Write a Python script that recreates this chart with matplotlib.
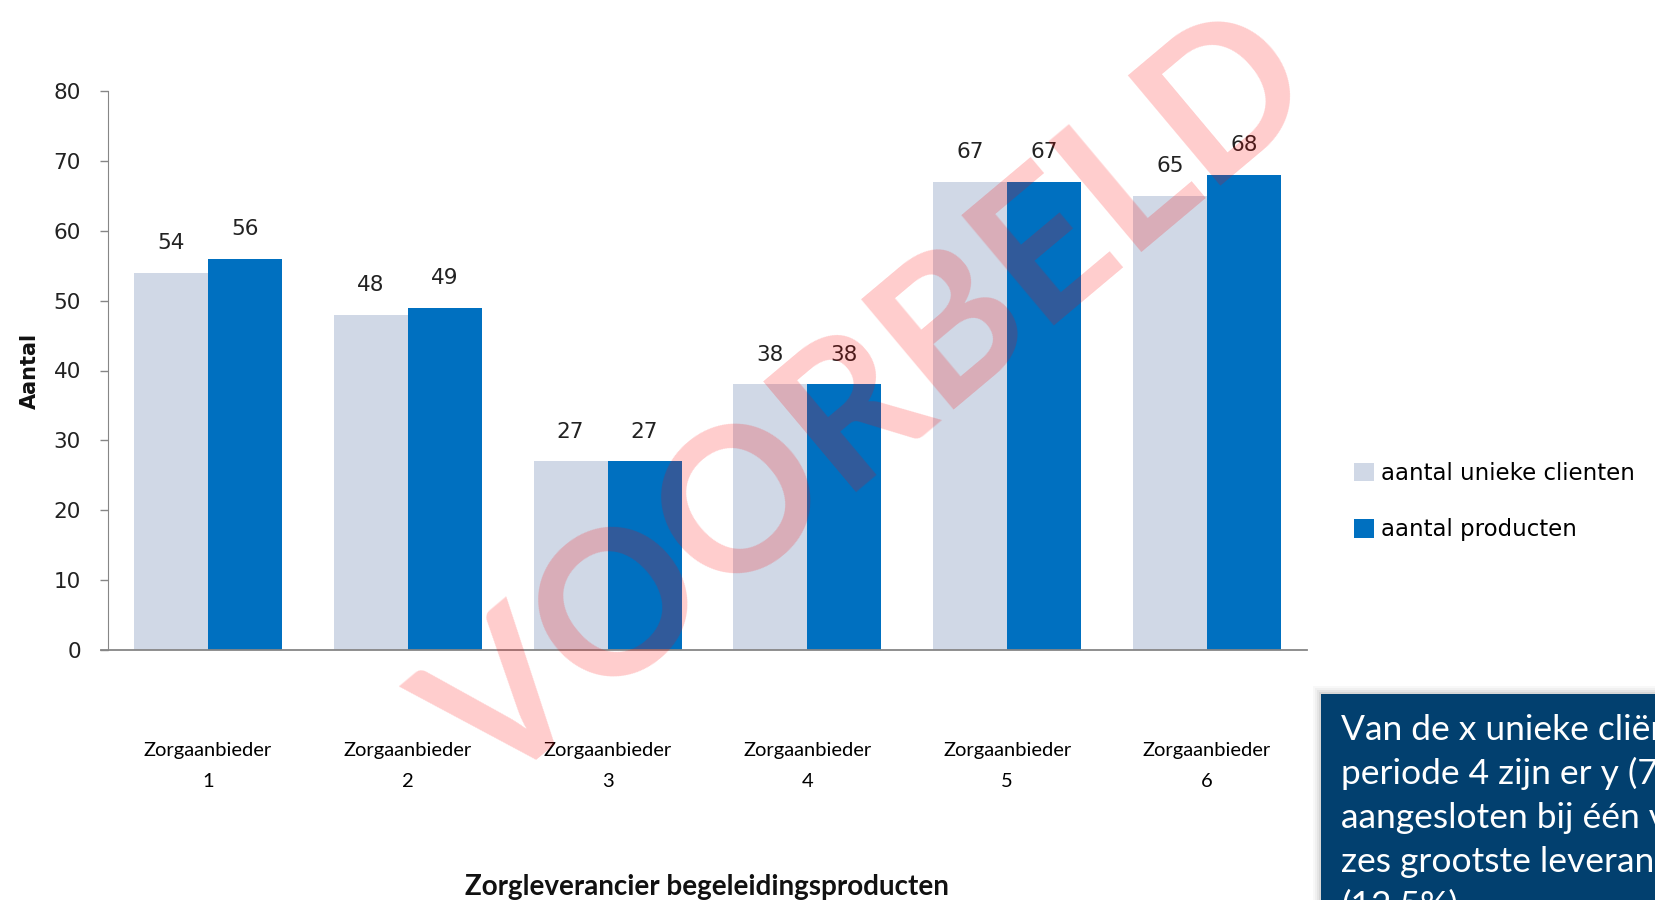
import numpy as np
import matplotlib
matplotlib.use('Agg')
import matplotlib.pyplot as plt
from matplotlib.patches import Rectangle

# data
categories = ["Zorgaanbieder\n1", "Zorgaanbieder\n2", "Zorgaanbieder\n3",
              "Zorgaanbieder\n4", "Zorgaanbieder\n5", "Zorgaanbieder\n6"]
unieke_clienten = [54, 48, 27, 38, 67, 65]
producten = [56, 49, 27, 38, 67, 68]
series_names = ["aantal unieke clienten", "aantal producten"]
yticks = [0, 10, 20, 30, 40, 50, 60, 70, 80]
box_lines = ["Van de x unieke cliënten in", "periode 4 zijn er y (72%)",
             "aangesloten bij één van de", "zes grootste leveranciers",
             "(12,5%)"]

W, H = 1655, 900
fig = plt.figure(figsize=(W / 100, H / 100), dpi=100)
ax = fig.add_axes([108 / W, 1 - 650 / H, (1307 - 108) / W, (650 - 91) / H])

x = np.arange(len(categories))
bw = 0.37
b1 = ax.bar(x - bw / 2, unieke_clienten, bw, color='#d0d8e6', label=series_names[0], zorder=2)
b2 = ax.bar(x + bw / 2, producten, bw, color='#0070c0', label=series_names[1], zorder=2)
ax.bar_label(b1, padding=14, fontsize=15.5, color='#222222', family='DejaVu Sans')
ax.bar_label(b2, padding=14, fontsize=15.5, color='#222222', family='DejaVu Sans')

ax.set_xlim(-0.5, len(categories) - 0.5)
ax.set_ylim(0, 80)
ax.set_yticks(yticks)
ax.set_xticks(x)
ax.set_xticklabels(categories, family='Lato', fontsize=14.5, linespacing=2.0)
ax.tick_params(axis='x', length=0, pad=66)
ax.tick_params(axis='y', length=5.5, width=1, color='#868686', pad=14, labelsize=15.5,
               labelcolor='#222222')
for s in ['top', 'right']:
    ax.spines[s].set_visible(False)
ax.spines['left'].set_color('#868686')
ax.spines['bottom'].set_color('#868686')
ax.spines['bottom'].set_linewidth(1.3)
ax.spines['bottom'].set_bounds(-0.535, len(categories) - 0.5)

ax.set_ylabel("Aantal", fontsize=15, fontweight='bold', color='#111111', labelpad=10)
fig.text(707 / W, 1 - 887 / H, "Zorgleverancier begeleidingsproducten", family='Lato',
         fontweight='bold', fontsize=20, ha='center', va='center', color='#111111')

fig.legend(handles=[b1, b2], labels=series_names, loc='upper left',
           bbox_to_anchor=(1354 / W, 1 - 462 / H), frameon=False, fontsize=16.5,
           handlelength=0.87, handleheight=0.87, handletextpad=0.3, labelspacing=1.45,
           borderpad=0, borderaxespad=0)

# watermark
fig.text(872 / W, 1 - 404 / H, "VOORBELD", family='Lato', fontweight='bold', fontsize=143,
         rotation=40, ha='center', va='center', color='red', alpha=0.2, zorder=10,
         rotation_mode='anchor')

# text box with shadow
bx, by = 1321 / W, 1 - 694 / H
for i, a in enumerate([0.05, 0.07, 0.1, 0.14]):
    d = (8 - 2 * i) / H
    fig.patches.append(Rectangle((bx - d * H / W, -0.1), 1, by + 0.1 + d,
                                 transform=fig.transFigure, color='#888888', alpha=a, lw=0))
fig.patches.append(Rectangle((bx, -0.1), 1, by + 0.1, transform=fig.transFigure,
                             color='#02406f', lw=0))
for i, line in enumerate(box_lines):
    fig.text(1341 / W, 1 - (740 + 44 * i) / H, line, family='Lato', fontsize=25.5,
             color='white', ha='left', va='baseline')

fig.savefig('out.png', dpi=100)
